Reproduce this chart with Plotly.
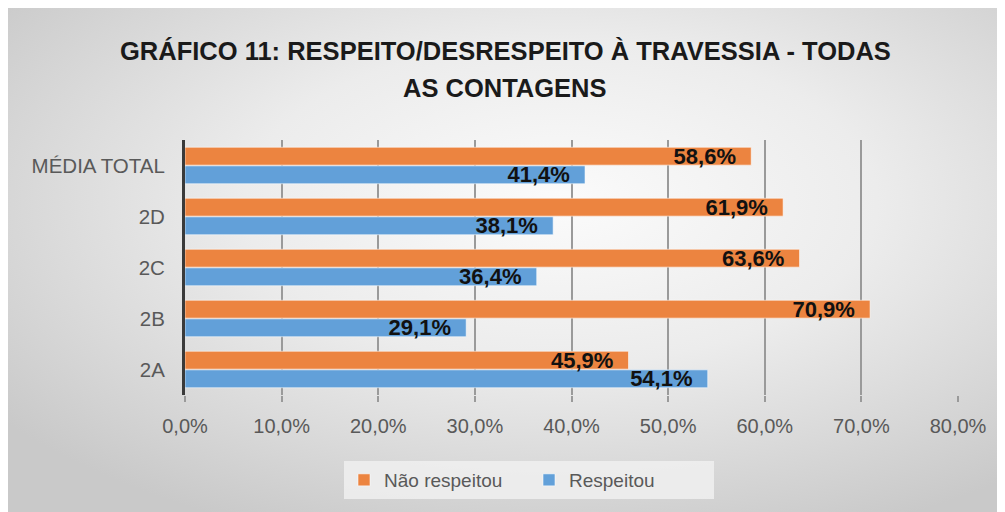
import base64
import plotly.graph_objects as go

categories = ["2A", "2B", "2C", "2D", "MÉDIA TOTAL"]
respeitou = [54.1, 29.1, 36.4, 38.1, 41.4]
nao_respeitou = [45.9, 70.9, 63.6, 61.9, 58.6]
x_ticks = [0, 10, 20, 30, 40, 50, 60, 70, 80]
x_tick_labels = ["0,0%", "10,0%", "20,0%", "30,0%", "40,0%", "50,0%", "60,0%", "70,0%", "80,0%"]
title_lines = ["GRÁFICO 11: RESPEITO/DESRESPEITO À TRAVESSIA - TODAS", "AS CONTAGENS"]

W, H = 1005, 512
ML, MR, MT, MB = 177, 55, 132, 125
PW, PH = W - ML - MR, H - MT - MB

def fmt(v):
    return f"{v:.1f}%".replace(".", ",") + "\u00a0\u00a0"

def px_x(x):
    return (x - ML) / PW

def px_y(y):
    return (H - MB - y) / PH

svg = (
    '<svg xmlns="http://www.w3.org/2000/svg" width="1005" height="512" preserveAspectRatio="none">'
    '<defs><radialGradient id="g" cx="55%" cy="38%" r="70%">'
    '<stop offset="0" stop-color="#fbfbfb"/><stop offset="0.45" stop-color="#ececec"/>'
    '<stop offset="1" stop-color="#c9c9c9"/></radialGradient></defs>'
    '<rect width="1005" height="512" fill="url(#g)"/></svg>'
)
bg_src = "data:image/svg+xml;base64," + base64.b64encode(svg.encode()).decode()

FONT = "Liberation Sans, Arial, sans-serif"
label_font = dict(family=FONT, size=22, color="#111111", weight="bold")
bar_line = dict(color="rgba(255,255,255,0.55)", width=1)

fig = go.Figure()
fig.add_trace(go.Bar(
    y=categories, x=respeitou, orientation="h", name="Respeitou",
    marker=dict(color="#62A0D9", line=bar_line),
    text=[fmt(v) for v in respeitou], textposition="inside", insidetextanchor="end",
    textfont=label_font, constraintext="none", cliponaxis=False,
))
fig.add_trace(go.Bar(
    y=categories, x=nao_respeitou, orientation="h", name="Não respeitou",
    marker=dict(color="#EC8440", line=bar_line),
    text=[fmt(v) for v in nao_respeitou], textposition="inside", insidetextanchor="end",
    textfont=label_font, constraintext="none", cliponaxis=False,
))

title_font = dict(family=FONT, size=25.5, color="#1a1a1a", weight="bold")
annotations = [
    dict(text=title_lines[0], x=px_x(497), y=px_y(43), xref="paper", yref="paper",
         xanchor="center", yanchor="middle", showarrow=False, font=title_font),
    dict(text=title_lines[1], x=px_x(497), y=px_y(80), xref="paper", yref="paper",
         xanchor="center", yanchor="middle", showarrow=False, font=title_font),
]

fig.update_layout(
    width=W, height=H,
    margin=dict(l=ML, r=MR, t=MT, b=MB, autoexpand=False),
    paper_bgcolor="#dedede", plot_bgcolor="rgba(0,0,0,0)",
    barmode="group", bargap=0.27, bargroupgap=0.04,
    annotations=annotations,
    xaxis=dict(
        range=[0, 80], tickvals=x_ticks, ticktext=x_tick_labels,
        showgrid=True, gridcolor="#9a9a9a", gridwidth=1.5,
        ticks="outside", ticklen=6, tickwidth=1.5, tickcolor="#9a9a9a",
        zeroline=False, showline=False,
        tickfont=dict(family=FONT, size=20, color="#595959"),
        ticklabelstandoff=7,
    ),
    yaxis=dict(
        categoryorder="array", categoryarray=categories,
        showline=True, linecolor="#3a3a3a", linewidth=3,
        showgrid=False, ticks="", ticklabelstandoff=13,
        tickfont=dict(family=FONT, size=20.5, color="#595959"),
    ),
    legend=dict(
        orientation="h", traceorder="reversed",
        x=px_x(521), xanchor="center", y=px_y(472), yanchor="middle",
        bgcolor="rgba(240,240,240,0.85)", borderwidth=0,
        font=dict(family=FONT, size=19, color="#595959"),
        entrywidth=140, entrywidthmode="pixels",
    ),
    images=[dict(
        source=bg_src, xref="paper", yref="paper",
        x=px_x(0), y=px_y(0), sizex=W / PW, sizey=H / PH,
        xanchor="left", yanchor="top", sizing="stretch", layer="below",
    )],
)

fig.write_html("out.html")
